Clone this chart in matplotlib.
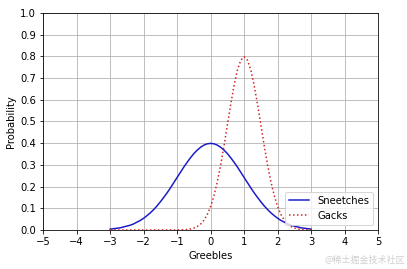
import numpy as np
import matplotlib
matplotlib.use("Agg")
import matplotlib.pyplot as plt

# sample positions along the x axis
xs = np.linspace(-3, 3, 61)

# probability values (x = -3 .. 3, step 0.1)
sneetches = [0.004, 0.006, 0.008, 0.010, 0.014, 0.018, 0.022, 0.028, 0.036, 0.044,
             0.054, 0.066, 0.079, 0.094, 0.111, 0.130, 0.150, 0.171, 0.194, 0.218,
             0.242, 0.266, 0.290, 0.312, 0.333, 0.352, 0.368, 0.381, 0.391, 0.397,
             0.399,
             0.397, 0.391, 0.381, 0.368, 0.352, 0.333, 0.312, 0.290, 0.266, 0.242,
             0.218, 0.194, 0.171, 0.150, 0.130, 0.111, 0.094, 0.079, 0.066, 0.054,
             0.044, 0.036, 0.028, 0.022, 0.018, 0.014, 0.010, 0.008, 0.006, 0.004]

gacks = [0.0] * 20 + [
    0.000, 0.001, 0.001, 0.002, 0.005, 0.009, 0.016, 0.027, 0.045, 0.071,
    0.108, 0.158, 0.222, 0.300, 0.388, 0.484, 0.579, 0.666, 0.737, 0.782,
    0.798,
    0.782, 0.737, 0.666, 0.579, 0.484, 0.388, 0.300, 0.222, 0.158, 0.108,
    0.071, 0.045, 0.027, 0.016, 0.009, 0.005, 0.002, 0.001, 0.001, 0.000]

fig = plt.figure(figsize=(407 / 72, 269 / 72), dpi=72)
ax = fig.add_axes([0.106, 0.145, 0.823, 0.807])

ax.plot(xs, sneetches, color='#1a1acc', label='Sneetches')
ax.plot(xs, gacks, ':', color='#d62020', label='Gacks')

ax.set_xlim(-5, 5)
ax.set_ylim(0, 1.0)
ax.set_xticks(np.arange(-5, 6, 1))
ax.set_yticks(np.arange(0, 1.01, 0.1))
ax.grid(True, color='#b0b0b0')
ax.set_xlabel('Greebles')
ax.set_ylabel('Probability')
ax.legend(loc='lower right')

fig.text(0.995, 0.015, '@稀土掘金技术社区', ha='right', va='bottom', fontsize=9,
         color='#d0d0d0', family=['Noto Sans CJK SC', 'DejaVu Sans'])

fig.savefig('out.png', dpi=72)
